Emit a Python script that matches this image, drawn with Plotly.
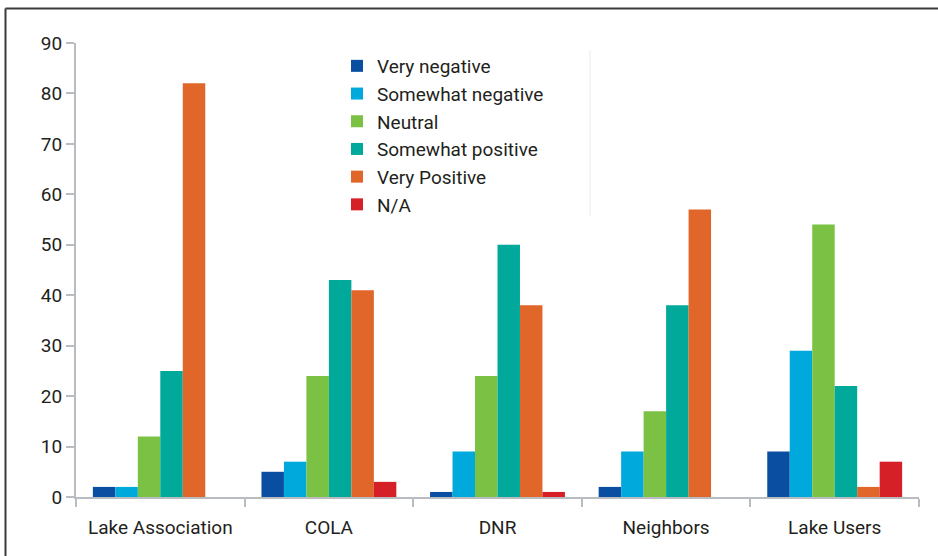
import plotly.graph_objects as go

categories = ["Lake Association", "COLA", "DNR", "Neighbors", "Lake Users"]
very_negative = [2, 5, 1, 2, 9]
somewhat_negative = [2, 7, 9, 9, 29]
neutral = [12, 24, 24, 17, 54]
somewhat_positive = [25, 43, 50, 38, 22]
very_positive = [82, 41, 38, 57, 2]
not_applicable = [0, 3, 1, 0, 7]

series_names = ["Very negative", "Somewhat negative", "Neutral",
                "Somewhat positive", "Very Positive", "N/A"]
series_values = [very_negative, somewhat_negative, neutral,
                 somewhat_positive, very_positive, not_applicable]
series_colors = ["#0a4ea2", "#00a9dc", "#7bc143", "#00a99a", "#e0662a", "#d62028"]

FONT = "Roboto, Liberation Sans, sans-serif"

fig = go.Figure()
for name, vals, col in zip(series_names, series_values, series_colors):
    fig.add_trace(go.Bar(name=name, x=categories, y=vals, marker=dict(color=col, line=dict(width=0))))

W, H = 938, 556
ml, mr, mt, mb = 76, 19, 43, 59
pw, ph = W - ml - mr, H - mt - mb

def px_x(p):
    return (p - ml) / pw

def px_y(p):
    return 1 - (p - mt) / ph

axis_col = "#b9bdc1"
fig.update_layout(
    width=W, height=H,
    margin=dict(l=ml, r=mr, t=mt, b=mb, pad=0),
    paper_bgcolor="white", plot_bgcolor="white",
    barmode="group", bargap=0.2, bargroupgap=0,
    font=dict(family=FONT, size=19, color="#231f20"),
    showlegend=True,
    legend=dict(x=px_x(337), y=px_y(47), xanchor="left", yanchor="top",
                bgcolor="rgba(0,0,0,0)", font=dict(size=19), tracegroupgap=0),
    xaxis=dict(showline=True, linecolor=axis_col, linewidth=2, ticks="outside",
               tickson="boundaries", ticklen=8, tickcolor=axis_col, tickwidth=2,
               ticklabelstandoff=12, showgrid=False, range=[-0.5, 4.5]),
    yaxis=dict(range=[0, 90], dtick=10, showline=True, linecolor=axis_col, linewidth=2,
               ticks="outside", ticklen=8, tickcolor=axis_col, tickwidth=2,
               showgrid=False, zeroline=False),
    shapes=[
        dict(type="line", xref="paper", yref="paper",
             x0=px_x(5.5), x1=px_x(5.5), y0=px_y(8.5), y1=px_y(560),
             line=dict(color="#3a3a3a", width=2)),
        dict(type="line", xref="paper", yref="paper",
             x0=px_x(5.5), x1=px_x(945), y0=px_y(8.5), y1=px_y(8.5),
             line=dict(color="#3a3a3a", width=2)),
        dict(type="line", xref="paper", yref="paper",
             x0=px_x(590), x1=px_x(590), y0=px_y(50), y1=px_y(216),
             line=dict(color="#ececec", width=1)),
    ],
)

fig.write_html("out.html", config={"displayModeBar": False},
               post_script="document.body.style.margin='0';")
